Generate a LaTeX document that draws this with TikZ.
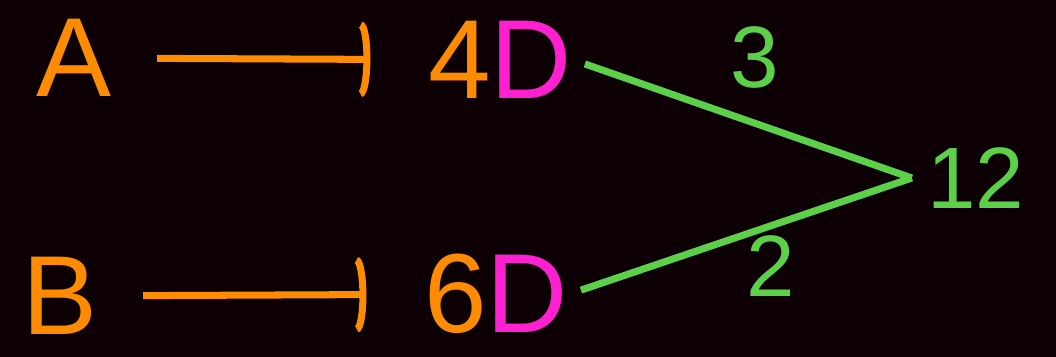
\documentclass[tikz,border=0pt]{standalone}
\usepackage{fontspec}
\setmainfont{Liberation Sans}
\usetikzlibrary{arrows.meta, positioning}
\definecolor{bgdark}{RGB}{13,0,4}
\definecolor{orng}{RGB}{255,140,0}
\definecolor{mgnt}{RGB}{255,32,208}
\definecolor{grn}{RGB}{92,208,72}
\tikzset{
  letter/.style={
    text=orng, inner sep=1pt,
    font=\fontsize{80}{80}\selectfont
  },
  weight/.style={
    text=grn, inner sep=1pt,
    font=\fontsize{62}{62}\selectfont
  },
  arr/.style={-{Arc Barb[arc=180, length=7pt, width=54pt]}, orng,
    line width=5pt, shorten <=1.1cm, shorten >=1.4cm},
  link/.style={grn, line width=5pt, shorten <=0.3cm},
}

\begin{document}
\begin{tikzpicture}

  % background
  \fill[bgdark] (0,0) rectangle (26.4,-8.925);
  \useasboundingbox (0,0) rectangle (26.4,-8.925);

  % ── nodes ─────────────────────────────────────────────────────────────────
  \node[letter] (A)      at (1.85,-1.45)  {A};
  \node[letter] (B)      at (1.5,-7.4)    {B};
  \node[letter] (fourD)  at (12.5,-1.5)   {4\textcolor{mgnt}{D}};
  \node[letter] (sixD)   at (12.4,-7.35)  {6\textcolor{mgnt}{D}};
  \node[weight] (twelve) at (24.4,-4.45)  {12};
  \coordinate (tip) at ([xshift=-0.35cm]twelve.west);

  % ── edges ─────────────────────────────────────────────────────────────────
  \draw[arr]  (A)     -- (fourD);
  \draw[arr]  (B)     -- (sixD);

  \draw[link] (fourD.east) -- node[weight, midway, xshift=0.3cm, yshift=1.55cm]{3} (tip);
  \draw[link] (sixD.east)  -- node[weight, midway, xshift=0.75cm, yshift=-0.75cm]{2} (tip);

\end{tikzpicture}
\end{document}
